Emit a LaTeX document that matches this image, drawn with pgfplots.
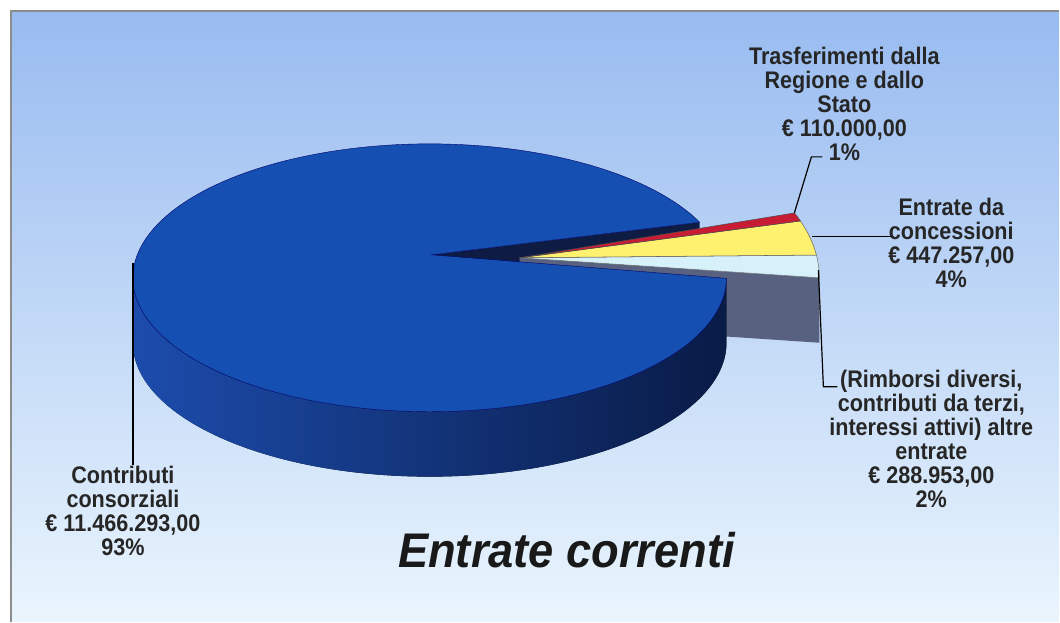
\documentclass[border=0pt]{standalone}
\usepackage{pgfplots}
\usepackage{pgfplotstable}
\pgfplotsset{compat=1.18}
\usepackage{fontspec}
\setmainfont{Liberation Sans}

\definecolor{bgTop}{RGB}{152,187,240}
\definecolor{bgMid}{RGB}{184,212,246}
\definecolor{bgBot}{RGB}{234,245,253}
\definecolor{pieTop}{RGB}{22,79,178}
\definecolor{wallL}{RGB}{28,76,172}
\definecolor{wallM}{RGB}{18,56,142}
\definecolor{wallR}{RGB}{9,27,70}
\definecolor{cutNavy}{RGB}{14,28,68}
\definecolor{cutGrey}{RGB}{88,98,128}
\definecolor{sliceRed}{RGB}{200,28,52}
\definecolor{sliceYellow}{RGB}{255,241,112}
\definecolor{sliceCyan}{RGB}{214,241,250}

% values in thousands of euro
\pgfplotstableread{
slice value
Contributi 11466.293
Trasferimenti 110.000
Concessioni 447.257
Altre 288.953
}\entrate

\begin{document}
\begin{tikzpicture}
\pgfplotstablegetelem{0}{value}\of\entrate \let\vA\pgfplotsretval
\pgfplotstablegetelem{1}{value}\of\entrate \let\vB\pgfplotsretval
\pgfplotstablegetelem{2}{value}\of\entrate \let\vC\pgfplotsretval
\pgfplotstablegetelem{3}{value}\of\entrate \let\vD\pgfplotsretval
\pgfmathsetmacro\S{\vA+\vB+\vC+\vD}
\pgfmathsetmacro\spanA{\vA/\S*360}
\pgfmathsetmacro\spanB{\vB/\S*360}
\pgfmathsetmacro\spanC{\vC/\S*360}
\pgfmathsetmacro\spanD{\vD/\S*360}
% big slice (Contributi)
\pgfmathsetmacro\bs{24.5}
\pgfmathsetmacro\be{\bs+\spanA}
\pgfmathsetmacro\bsx{430+297*cos(\bs)}
\pgfmathsetmacro\bsy{344+134*sin(\bs)}
\pgfmathsetmacro\bsyb{\bsy-65}
\pgfmathsetmacro\bex{430+297*cos(\be)}
\pgfmathsetmacro\bey{344+134*sin(\be)}
\pgfmathsetmacro\beyb{\bey-65}
% exploded slices
\pgfmathsetmacro\ea{0}
\pgfmathsetmacro\eb{\ea+\spanD}
\pgfmathsetmacro\ec{\eb+\spanC}
\pgfmathsetmacro\ed{\ec+\spanB}
\pgfmathsetmacro\eax{548+272*cos(\ea)}
\pgfmathsetmacro\eay{344+155*sin(\ea)}
\pgfmathsetmacro\eayb{\eay-65}
\pgfmathsetmacro\ebx{548+272*cos(\eb)}
\pgfmathsetmacro\eby{344+155*sin(\eb)}
\pgfmathsetmacro\ecx{548+272*cos(\ec)}
\pgfmathsetmacro\ecy{344+155*sin(\ec)}
\begin{axis}[x=0.75pt, y=0.75pt, xmin=0, xmax=1060, ymin=0, ymax=622,
  hide axis, scale only axis, clip=false]
% background
\fill[white] (axis cs:0,0) rectangle (axis cs:1060,622);
\fill[top color=bgTop, middle color=bgMid, bottom color=bgBot]
  (axis cs:11,0) rectangle (axis cs:1060,611);
\draw[black!45, line width=1.2pt] (axis cs:11,0) -- (axis cs:11,611) -- (axis cs:1060,611);
% cut face of big slice
\fill[cutNavy] (axis cs:432,367) -- (axis cs:\bsx,\bsy) -- (axis cs:\bsx,\bsyb) -- (axis cs:432,302) -- cycle;
% grey cut face of exploded slice
\fill[cutGrey] (axis cs:520,364) -- (axis cs:\eax,\eay) -- (axis cs:\eax,\eayb) -- (axis cs:520,299) -- cycle;
% exploded slices tops
\filldraw[fill=sliceCyan, draw=black!55, line width=0.4pt] (axis cs:520,364) -- (axis cs:\eax,\eay)
  arc[start angle=\ea, end angle=\eb, x radius=204pt, y radius=116.25pt] -- cycle;
\filldraw[fill=sliceYellow, draw=black!60, line width=0.4pt] (axis cs:520,364) -- (axis cs:\ebx,\eby)
  arc[start angle=\eb, end angle=\ec, x radius=204pt, y radius=116.25pt] -- cycle;
\filldraw[fill=sliceRed, draw=black!70, line width=0.4pt] (axis cs:520,364) -- (axis cs:\ecx,\ecy)
  arc[start angle=\ec, end angle=\ed, x radius=204pt, y radius=116.25pt] -- cycle;
% big slice wall
\fill[left color=wallL, middle color=wallM, right color=wallR]
  (axis cs:133,344) arc[start angle=180, end angle=\be, x radius=222.75pt, y radius=100.5pt]
  -- (axis cs:\bex,\beyb) arc[start angle=\be, end angle=180, x radius=222.75pt, y radius=100.5pt] -- cycle;
% big slice top
\filldraw[fill=pieTop, draw=black!60!blue, line width=0.3pt] (axis cs:432,367) -- (axis cs:\bsx,\bsy)
  arc[start angle=\bs, end angle=\be, x radius=222.75pt, y radius=100.5pt] -- cycle;
% leader lines
\draw[black, line width=0.9pt] (axis cs:133,359) -- (axis cs:133,157);
\draw[black, line width=0.9pt] (axis cs:795,409) -- (axis cs:812,465) -- (axis cs:823,465);
\draw[black, line width=0.9pt] (axis cs:813,385) -- (axis cs:895,385);
\draw[black, line width=0.9pt] (axis cs:819,352) -- (axis cs:824,235) -- (axis cs:838,235);
% labels
\begin{scope}[every node/.style={align=center, inner sep=0pt, xscale=0.9,
   font=\fontsize{18}{18}\selectfont\bfseries, text=black!85}]
\node at (axis cs:845,518) {Trasferimenti dalla\\Regione e dallo\\Stato\\€ 110.000,00\\1\%};
\node at (axis cs:952,379) {Entrate da\\concessioni\\€ 447.257,00\\4\%};
\node at (axis cs:932,183) {(Rimborsi diversi,\\contributi da terzi,\\interessi attivi) altre\\entrate\\€ 288.953,00\\2\%};
\node at (axis cs:123,111) {Contributi\\consorziali\\€ 11.466.293,00\\93\%};
\end{scope}
\node[anchor=base, inner sep=0pt, xscale=0.93, font=\fontsize{36.5}{40}\selectfont\bfseries\itshape, text=black!90]
  at (axis cs:567,54) {Entrate correnti};
\end{axis}
\end{tikzpicture}
\end{document}
